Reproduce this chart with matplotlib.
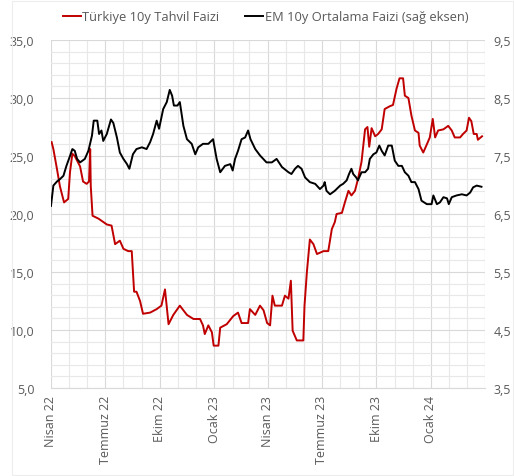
import pandas as pd
import matplotlib
matplotlib.use("Agg")
import matplotlib.pyplot as plt
import matplotlib.dates as mdates
from matplotlib.patches import Rectangle
from matplotlib.ticker import FuncFormatter, MultipleLocator

# Türkiye 10y tahvil faizi (sol eksen)
tr_dates = [
    "2022-04-02", "2022-04-05", "2022-04-11", "2022-04-16", "2022-04-23", "2022-04-30",
    "2022-05-03", "2022-05-07", "2022-05-11", "2022-05-20", "2022-05-25", "2022-05-31",
    "2022-06-04", "2022-06-06", "2022-06-07", "2022-06-10", "2022-06-20", "2022-07-04",
    "2022-07-12", "2022-07-18", "2022-07-26", "2022-08-01", "2022-08-09", "2022-08-15",
    "2022-08-19", "2022-08-23", "2022-08-29", "2022-09-03", "2022-09-15", "2022-09-26",
    "2022-10-04", "2022-10-10", "2022-10-16", "2022-10-24", "2022-11-04", "2022-11-16",
    "2022-11-27", "2022-12-08", "2022-12-13", "2022-12-16", "2022-12-22", "2022-12-28",
    "2022-12-31", "2023-01-08", "2023-01-11", "2023-01-22", "2023-02-02", "2023-02-10",
    "2023-02-16", "2023-02-27", "2023-03-02", "2023-03-11", "2023-03-19", "2023-03-25",
    "2023-03-31", "2023-04-05", "2023-04-09", "2023-04-13", "2023-04-25", "2023-04-30",
    "2023-05-06", "2023-05-10", "2023-05-13", "2023-05-20", "2023-05-31", "2023-06-02",
    "2023-06-06", "2023-06-11", "2023-06-17", "2023-06-23", "2023-07-04", "2023-07-12",
    "2023-07-18", "2023-07-23", "2023-07-26", "2023-08-04", "2023-08-09", "2023-08-15",
    "2023-08-20", "2023-08-26", "2023-08-31", "2023-09-06", "2023-09-12", "2023-09-16",
    "2023-09-19", "2023-09-23", "2023-09-29", "2023-10-04", "2023-10-10", "2023-10-15",
    "2023-10-24", "2023-10-29", "2023-11-04", "2023-11-09", "2023-11-15", "2023-11-18",
    "2023-11-24", "2023-11-29", "2023-12-05", "2023-12-11", "2023-12-13", "2023-12-19",
    "2023-12-25", "2023-12-30", "2024-01-04", "2024-01-08", "2024-01-13", "2024-01-22",
    "2024-01-30", "2024-02-05", "2024-02-10", "2024-02-19", "2024-02-24", "2024-03-01",
    "2024-03-05", "2024-03-09", "2024-03-13", "2024-03-18", "2024-03-20", "2024-03-27",
]
tr_values = [
    26.2, 25.6, 23.9, 22.4, 21.0, 21.3,
    23.6, 25.2, 25.0, 24.1, 22.8, 22.6,
    22.8, 25.6, 22.4, 19.85, 19.6, 19.1,
    19.0, 17.4, 17.7, 17.0, 16.8, 16.8,
    13.3, 13.3, 12.5, 11.4, 11.5, 11.8,
    12.1, 13.5, 10.5, 11.3, 12.1, 11.3,
    10.95, 10.95, 10.4, 9.65, 10.4, 9.8,
    8.65, 8.65, 10.2, 10.5, 11.2, 11.5,
    10.6, 10.6, 11.8, 11.3, 12.1, 11.7,
    10.6, 10.4, 12.96, 12.1, 12.1, 12.96,
    12.7, 14.25, 9.94, 9.1, 9.1, 12.1,
    15.0, 17.8, 17.4, 16.55, 16.8, 16.8,
    18.7, 19.3, 20.0, 20.1, 21.0, 22.0,
    21.6, 22.0, 23.0, 24.5, 27.3, 27.5,
    25.8, 27.4, 26.7, 26.9, 27.3, 29.05,
    29.3, 29.4, 30.8, 31.7, 31.7, 30.2,
    30.0, 28.5, 27.2, 27.0, 25.9, 25.3,
    26.0, 26.6, 28.2, 26.6, 27.2, 27.3,
    27.6, 27.2, 26.6, 26.6, 26.9, 27.2,
    28.3, 28.0, 26.9, 26.9, 26.4, 26.7,
]

# EM 10y ortalama faizi (sag eksen)
em_dates = [
    "2022-04-01", "2022-04-05", "2022-04-11", "2022-04-16", "2022-04-22", "2022-04-27",
    "2022-05-03", "2022-05-07", "2022-05-11", "2022-05-15", "2022-05-20", "2022-05-28",
    "2022-06-03", "2022-06-09", "2022-06-12", "2022-06-18", "2022-06-21", "2022-06-25",
    "2022-06-28", "2022-07-04", "2022-07-11", "2022-07-15", "2022-07-21", "2022-07-26",
    "2022-08-01", "2022-08-07", "2022-08-11", "2022-08-17", "2022-08-23", "2022-09-01",
    "2022-09-09", "2022-09-15", "2022-09-20", "2022-09-26", "2022-09-30", "2022-10-07",
    "2022-10-13", "2022-10-18", "2022-10-22", "2022-10-25", "2022-10-31", "2022-11-04",
    "2022-11-10", "2022-11-16", "2022-11-24", "2022-11-30", "2022-12-05", "2022-12-13",
    "2022-12-22", "2022-12-30", "2023-01-05", "2023-01-11", "2023-01-19", "2023-01-28",
    "2023-02-01", "2023-02-05", "2023-02-10", "2023-02-16", "2023-02-22", "2023-02-27",
    "2023-03-03", "2023-03-11", "2023-03-19", "2023-03-30", "2023-04-08", "2023-04-16",
    "2023-04-25", "2023-05-06", "2023-05-11", "2023-05-17", "2023-05-22", "2023-05-28",
    "2023-06-03", "2023-06-11", "2023-06-20", "2023-06-28", "2023-07-04", "2023-07-06",
    "2023-07-09", "2023-07-15", "2023-07-23", "2023-08-01", "2023-08-06", "2023-08-12",
    "2023-08-16", "2023-08-20", "2023-08-23", "2023-08-28", "2023-08-31", "2023-09-06",
    "2023-09-12", "2023-09-17", "2023-09-20", "2023-09-26", "2023-10-01", "2023-10-06",
    "2023-10-10", "2023-10-15", "2023-10-21", "2023-10-27", "2023-11-01", "2023-11-07",
    "2023-11-13", "2023-11-18", "2023-11-24", "2023-11-29", "2023-12-05", "2023-12-11",
    "2023-12-16", "2023-12-25", "2024-01-02", "2024-01-05", "2024-01-11", "2024-01-16",
    "2024-01-22", "2024-01-28", "2024-01-31", "2024-02-05", "2024-02-13", "2024-02-22",
    "2024-03-01", "2024-03-07", "2024-03-12", "2024-03-18", "2024-03-26",
]
em_values = [
    6.64, 6.99, 7.06, 7.10, 7.16, 7.33,
    7.50, 7.62, 7.59, 7.45, 7.39, 7.45,
    7.59, 7.85, 8.11, 8.11, 7.88, 7.94,
    7.76, 7.88, 8.13, 8.07, 7.82, 7.56,
    7.45, 7.36, 7.28, 7.53, 7.62, 7.65,
    7.62, 7.74, 7.88, 8.11, 7.97, 8.31,
    8.43, 8.64, 8.54, 8.37, 8.37, 8.43,
    8.02, 7.79, 7.71, 7.53, 7.65, 7.71,
    7.71, 7.79, 7.45, 7.22, 7.33, 7.36,
    7.25, 7.45, 7.59, 7.79, 7.82, 7.94,
    7.79, 7.62, 7.51, 7.39, 7.39, 7.45,
    7.31, 7.22, 7.19, 7.28, 7.33, 7.28,
    7.13, 7.05, 7.02, 6.93, 6.99, 7.05,
    6.90, 6.84, 6.90, 6.99, 7.02, 7.08,
    7.19, 7.28, 7.19, 7.13, 7.08, 7.22,
    7.22, 7.28, 7.45, 7.53, 7.56, 7.68,
    7.59, 7.51, 7.68, 7.68, 7.42, 7.33,
    7.33, 7.22, 7.16, 7.05, 7.05, 6.93,
    6.73, 6.67, 6.67, 6.82, 6.67, 6.70,
    6.79, 6.77, 6.67, 6.79, 6.82, 6.84,
    6.82, 6.87, 6.96, 6.99, 6.97,
]

quarter_labels = ["Nisan 22", "Temmuz 22", "Ekim 22", "Ocak 23",
                  "Nisan 23", "Temmuz 23", "Ekim 23", "Ocak 24"]
right_ticks = [3.5, 4.5, 5.5, 6.5, 7.5, 8.5, 9.5]
tr_label = "Türkiye 10y Tahvil Faizi"
em_label = "EM 10y Ortalama Faizi (sağ eksen)"

plt.rcParams['font.family'] = ['Open Sans', 'DejaVu Sans']
grey = "#595959"
fs = 9

fig = plt.figure(figsize=(5.14, 4.77), dpi=100)
fig.patches.append(Rectangle((0.024, 0.002), 0.975, 0.993, transform=fig.transFigure,
                             fill=False, edgecolor="#ededed", lw=0.8))
ax = fig.add_axes([0.0992, 0.1845, 0.8444, 0.7295])
ax2 = ax.twinx()

start, end = pd.Timestamp("2022-04-01"), pd.Timestamp("2024-04-01")
comma = FuncFormatter(lambda v, p: f"{v:.1f}".replace(".", ","))

# grid: monthly minor, quarterly major
ax.set_xlim(start, end)
ax.set_ylim(5, 35)
ax.yaxis.set_major_locator(MultipleLocator(5))
ax.yaxis.set_minor_locator(MultipleLocator(1))
quarters = pd.date_range(start, end, freq="QS-JAN")
ax.set_xticks(quarters[:len(quarter_labels)])
ax.set_xticklabels(quarter_labels, rotation=90, color=grey, fontsize=fs)
ax.xaxis.set_minor_locator(mdates.MonthLocator())
ax.grid(which="major", color="#d9d9d9", lw=0.8)
ax.grid(which="minor", color="#e8e8e8", lw=0.8)
ax.axvline(end, color="#d9d9d9", lw=0.8)
ax.set_axisbelow(True)
ax.tick_params(which="both", length=0)
ax.tick_params(axis="x", pad=5)
ax.tick_params(axis="y", colors=grey, labelsize=fs, pad=12)
ax.yaxis.set_major_formatter(comma)

ax2.set_ylim(3.5, 9.5)
ax2.set_yticks(right_ticks)
ax2.tick_params(which="both", length=0, colors=grey, labelsize=fs, pad=6)
ax2.yaxis.set_major_formatter(comma)

for a in (ax, ax2):
    for s in a.spines.values():
        s.set_visible(False)
ax.spines["bottom"].set_visible(True)
ax.spines["bottom"].set_color("#d9d9d9")

l1, = ax.plot(pd.to_datetime(tr_dates), tr_values, color="#c00000", lw=1.4, label=tr_label)
l2, = ax2.plot(pd.to_datetime(em_dates), em_values, color="#000000", lw=1.4, label=em_label)

fig.legend(handles=[l1, l2], loc="center", bbox_to_anchor=(0.517, 0.963), ncol=2,
           frameon=False, fontsize=9.3, labelcolor=grey, handlelength=1.4,
           handletextpad=0.1, columnspacing=2.0)

fig.savefig("out.png", dpi=100)
